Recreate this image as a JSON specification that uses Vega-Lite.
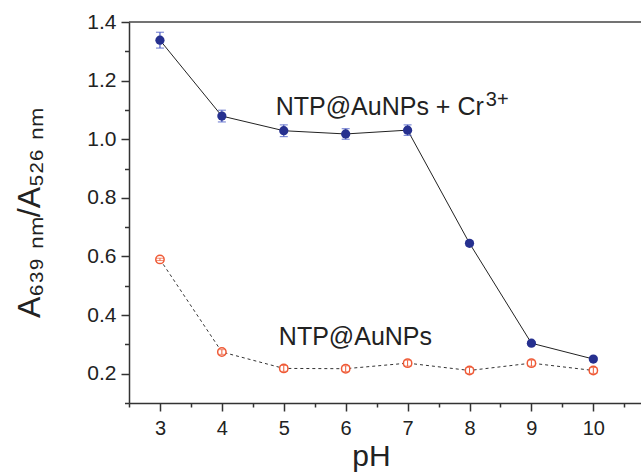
{
  "$schema": "https://vega.github.io/schema/vega-lite/v6.json",
  "width": 512,
  "height": 381,
  "autosize": {"type": "none"},
  "padding": {"left": 129, "top": 22, "right": 0, "bottom": 71},
  "background": "white",
  "config": {
    "view": {"stroke": null},
    "font": "Liberation Sans",
    "axis": {"grid": false, "domainColor": "#333333", "domainWidth": 1.5, "tickColor": "#333333", "tickWidth": 1.5, "labelColor": "#222222", "titleColor": "#222222", "labelFont": "Liberation Sans", "titleFont": "Liberation Sans", "titleFontWeight": "normal"}
  },
  "datasets": {
    "cr": [
      {"pH": 3, "ratio": 1.338, "err": 0.027},
      {"pH": 4, "ratio": 1.079, "err": 0.02},
      {"pH": 5, "ratio": 1.029, "err": 0.02},
      {"pH": 6, "ratio": 1.018, "err": 0.018},
      {"pH": 7, "ratio": 1.031, "err": 0.018},
      {"pH": 8, "ratio": 0.645, "err": 0.008},
      {"pH": 9, "ratio": 0.304, "err": 0.006},
      {"pH": 10, "ratio": 0.25, "err": 0.006}
    ],
    "np": [
      {"pH": 3, "ratio": 0.59, "err": 0.004},
      {"pH": 4, "ratio": 0.274, "err": 0.008},
      {"pH": 5, "ratio": 0.218, "err": 0.01},
      {"pH": 6, "ratio": 0.217, "err": 0.01},
      {"pH": 7, "ratio": 0.236, "err": 0.01},
      {"pH": 8, "ratio": 0.211, "err": 0.01},
      {"pH": 9, "ratio": 0.236, "err": 0.01},
      {"pH": 10, "ratio": 0.211, "err": 0.01}
    ]
  },
  "resolve": {"axis": {"x": "independent", "y": "independent"}},
  "layer": [
    {
      "encoding": {
        "x": {
          "field": "pH", "type": "quantitative",
          "scale": {"domain": [2.5, 10.77], "nice": false, "zero": false},
          "axis": {
            "title": "pH", "titleFontSize": 30, "titleX": 242, "titleY": 62, "titleBaseline": "alphabetic", "titleAlign": "center",
            "values": [2.5, 3, 3.5, 4, 4.5, 5, 5.5, 6, 6.5, 7, 7.5, 8, 8.5, 9, 9.5, 10, 10.5],
            "labelExpr": "datum.value % 1 == 0 ? format(datum.value, 'd') : ''",
            "labelFontSize": 20, "labelPadding": 7,
            "tickSize": {"condition": {"test": "datum.value % 1 == 0", "value": 8}, "value": 4}
          }
        },
        "y": {
          "field": "ratio", "type": "quantitative",
          "scale": {"domain": [0.1, 1.4], "nice": false, "zero": false},
          "axis": {
            "title": "A₆₃₉ ₙₘ/A₅₂₆ ₙₘ", "titleFontSize": 32, "titleBaseline": "alphabetic", "titlePadding": 47,
            "values": [0.1, 0.2, 0.3, 0.4, 0.5, 0.6, 0.7, 0.8, 0.9, 1.0, 1.1, 1.2, 1.3, 1.4],
            "labelExpr": "round(datum.value * 10) % 2 == 0 ? format(datum.value, '.1f') : ''",
            "labelFontSize": 21, "labelPadding": 5,
            "tickSize": {"condition": {"test": "round(datum.value * 10) % 2 == 0", "value": 8}, "value": 4.5}
          }
        }
      },
      "layer": [
        {"data": {"name": "cr"}, "mark": {"type": "line", "color": "#222222", "strokeWidth": 1}},
        {"data": {"name": "np"}, "mark": {"type": "line", "color": "#333333", "strokeWidth": 1, "strokeDash": [3, 3]}},
        {"data": {"name": "cr"}, "mark": {"type": "errorbar", "color": "#4b5cc4", "thickness": 1.2, "ticks": {"size": 8, "thickness": 1.2}}, "encoding": {"yError": {"field": "err"}}},
        {"data": {"name": "cr"}, "mark": {"type": "point", "filled": true, "color": "#26308f", "size": 85, "opacity": 1}},
        {"data": {"name": "np"}, "mark": {"type": "point", "filled": false, "fill": "white", "fillOpacity": 1, "stroke": "#ef5a36", "strokeWidth": 1.5, "size": 70, "opacity": 1}},
        {"data": {"name": "np"}, "mark": {"type": "errorbar", "color": "#ef5a36", "thickness": 1, "ticks": {"size": 8, "thickness": 1}}, "encoding": {"yError": {"field": "err"}}}
      ]
    },
    {"data": {"values": [{}]}, "mark": {"type": "rule", "color": "#444444", "strokeWidth": 1.5}, "encoding": {"y": {"datum": 1.4, "type": "quantitative", "axis": null}}},
    {"data": {"values": [{}]}, "mark": {"type": "text", "text": "NTP@AuNPs + Cr", "fontSize": 25, "align": "left", "baseline": "alphabetic", "color": "#222222"}, "encoding": {"x": {"datum": 4.87, "type": "quantitative", "axis": null}, "y": {"datum": 1.084, "type": "quantitative", "axis": null}}},
    {"data": {"values": [{}]}, "mark": {"type": "text", "text": "3+", "fontSize": 20, "align": "left", "baseline": "alphabetic", "color": "#222222"}, "encoding": {"x": {"datum": 8.264, "type": "quantitative", "axis": null}, "y": {"datum": 1.112, "type": "quantitative", "axis": null}}},
    {"data": {"values": [{}]}, "mark": {"type": "text", "text": "NTP@AuNPs", "fontSize": 25, "align": "left", "baseline": "alphabetic", "color": "#222222"}, "encoding": {"x": {"datum": 4.92, "type": "quantitative", "axis": null}, "y": {"datum": 0.299, "type": "quantitative", "axis": null}}}
  ]
}
